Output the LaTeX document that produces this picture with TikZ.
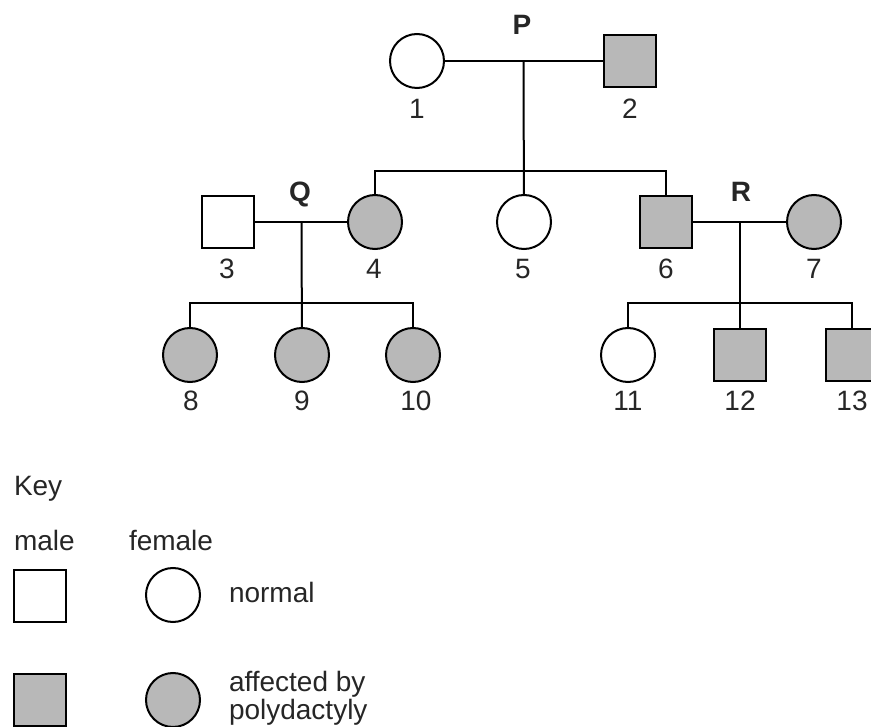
\documentclass[tikz,border=0pt]{standalone}
\usepackage{fontspec}
\setmainfont{Liberation Sans}
\usepackage{tikz}
\usetikzlibrary{calc}

\definecolor{affected}{gray}{0.72}
\definecolor{inktext}{gray}{0.15}

\tikzset{
  female/.style={circle, draw, minimum size=54pt, inner sep=0pt},
  male/.style={rectangle, draw, minimum size=52pt, inner sep=0pt},
  hit/.style={fill=affected},
  num/.style={anchor=base, inner sep=0pt, text=inktext},
  couple/.style={anchor=base, inner sep=0pt, font=\fontsize{28}{28}\selectfont\bfseries, text=inktext},
  keytext/.style={anchor=base west, inner sep=0pt, text=inktext}
}

\begin{document}
\begin{tikzpicture}[x=1pt, y=-1pt, line width=2pt, font=\fontsize{28}{28}\selectfont]
        \useasboundingbox (0,0) rectangle (871,727);

        % Generation I
        \node[female] (i1) at (417,61) {};
        \node[male, hit] (i2) at (630,61) {};
        \node[num] (n1) at (417,119) {1};
        \node[num] (n2) at (630,119) {2};
        \node[couple] (P) at (522,35) {P};

        % Generation II
        \node[male] (i3) at (228,222) {};
        \node[female, hit] (i4) at (375,222) {};
        \node[female] (i5) at (524,222) {};
        \node[male, hit] (i6) at (666,222) {};
        \node[female, hit] (i7) at (814,222) {};
        \node[num] (n3) at (227,279) {3};
        \node[num] (n4) at (374,279) {4};
        \node[num] (n5) at (523,279) {5};
        \node[num] (n6) at (666,279) {6};
        \node[num] (n7) at (814,279) {7};
        \node[couple] (Q) at (300,202) {Q};
        \node[couple] (R) at (741,202) {R};

        % Generation III
        \node[female, hit] (i8) at (190,355) {};
        \node[female, hit] (i9) at (302,355) {};
        \node[female, hit] (i10) at (413,355) {};
        \node[female] (i11) at (628,355) {};
        \node[male, hit] (i12) at (740,355) {};
        \node[male, hit] (i13) at (852,355) {};
        \node[num] (n8) at (191,411) {8};
        \node[num] (n9) at (302,411) {9};
        \node[num] (n10) at (416,411) {10};
        \node[num] (n11) at (628,411) {11};
        \node[num] (n12) at (740,411) {12};
        \node[num] (n13) at (852,411) {13};

        % Marriage lines
        \draw (i1) -- (i2);
        \draw (i3) -- (i4);
        \draw (i6) -- (i7);
        \coordinate (mP) at ($(i1)!0.5!(i2)$);
        \coordinate (mQ) at ($(i3)!0.5!(i4)$);
        \coordinate (mR) at ($(i6)!0.5!(i7)$);

        % Sibship lines
        \coordinate (sP) at (mP |- 0,171);
        \coordinate (sQ) at (mQ |- 0,303);
        \coordinate (sR) at (mR |- 0,303);
        \draw (mP) -- (i5);
        \draw (i4) |- (sP) -| (i6);
        \draw (mQ) -- (i9);
        \draw (i8) |- (sQ) -| (i10);
        \draw (mR) -- (i12);
        \draw (i11) |- (sR) -| (i13);

        % Key
        \node[keytext] (key) at (13,495) {Key};
        \node[keytext] (tmale) at (13,550) {male};
        \node[keytext] (tfemale) at (128,550) {female};
        \node[male] (kmn) at (39.5,595.5) {};
        \node[female] (kfn) at (173,595) {};
        \node[keytext] (tnormal) at (228,602) {normal};
        \node[male, hit] (kma) at (39.5,700) {};
        \node[female, hit] (kfa) at (173,700) {};
        \node[keytext] (taff) at (228,691) {affected by};
        \node[keytext] (tpoly) at (228,719) {polydactyly};
\end{tikzpicture}
\end{document}
